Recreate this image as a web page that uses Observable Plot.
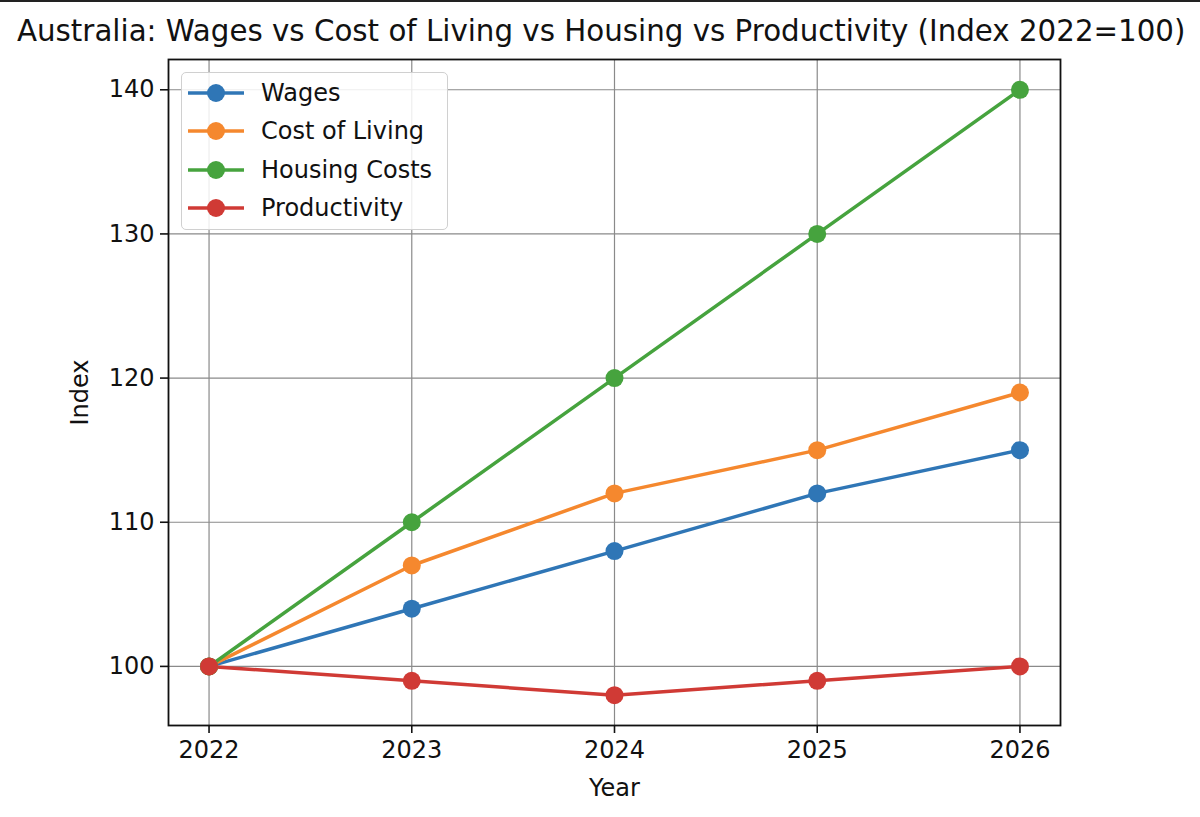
<!DOCTYPE html>
<html>
<head>
<meta charset="utf-8">
<script src="https://cdn.jsdelivr.net/npm/d3@7"></script>
<script src="https://cdn.jsdelivr.net/npm/@observablehq/plot@0.6"></script>
<style>
  html, body { margin: 0; padding: 0; background: #fff; overflow: hidden; }
  #wrap { position: relative; width: 1200px; height: 817px; font-family: "DejaVu Sans", sans-serif; }
  #topline { position: absolute; left: 0; top: 0; width: 1200px; height: 2px; background: #222; }
  #title { position: absolute; left: 17px; top: 14px; white-space: nowrap; font-size: 29.3px; color: #111; }
  #legend { position: absolute; left: 181px; top: 72px; width: 267px; height: 158px; border: 1.5px solid #d0d0d0; border-radius: 5px; background: rgba(255,255,255,0.85); box-sizing: border-box; }
  .row { position: absolute; left: 6px; height: 30px; display: flex; align-items: center; font-size: 24px; color: #111; }
  .row svg { margin-right: 17px; }
</style>
</head>
<body>
<div id="wrap">
  <div id="topline"></div>
  <div id="chart"></div>
  <div id="title">Australia: Wages vs Cost of Living vs Housing vs Productivity (Index 2022=100)</div>
  <div id="legend"></div>
</div>
<script>
const years = [2022, 2023, 2024, 2025, 2026];
const seriesNames = ["Wages", "Cost of Living", "Housing Costs", "Productivity"];
const wages = [100, 104, 108, 112, 115];
const costOfLiving = [100, 107, 112, 115, 119];
const housingCosts = [100, 110, 120, 130, 140];
const productivity = [100, 99, 98, 99, 100];
const colors = ["#2f76b6", "#f5882e", "#46a33e", "#d03a35"];
const yTicks = [100, 110, 120, 130, 140];

const seriesValues = [wages, costOfLiving, housingCosts, productivity];
const data = [];
seriesNames.forEach((name, i) => {
  years.forEach((yr, j) => data.push({series: name, year: yr, value: seriesValues[i][j]}));
});

const chart = Plot.plot({
  width: 1200,
  height: 817,
  marginLeft: 168,
  marginRight: 140,
  marginTop: 59,
  marginBottom: 92,
  style: { fontFamily: "DejaVu Sans, sans-serif", fontSize: "24px", color: "#111", background: "transparent" },
  x: { domain: [2021.8, 2026.2], ticks: years, tickFormat: d => String(d) },
  y: { domain: [95.9, 142.1], ticks: yTicks },
  color: { domain: seriesNames, range: colors },
  marks: [
    Plot.gridX(years, { stroke: "#8a8a8a", strokeOpacity: 1, strokeWidth: 1.2 }),
    Plot.gridY(yTicks, { stroke: "#8a8a8a", strokeOpacity: 1, strokeWidth: 1.2 }),
    Plot.axisX(years, { tickSize: 8, tickPadding: 7, tickFormat: d => String(d), label: "Year", labelAnchor: "center", labelArrow: "none", labelOffset: 70, fontSize: 24, strokeWidth: 1.6 }),
    Plot.axisY(yTicks, { tickSize: 8, tickPadding: 6, label: "Index", labelAnchor: "center", labelArrow: "none", labelOffset: 98, fontSize: 24, strokeWidth: 1.6 }),
    Plot.line(data, { x: "year", y: "value", z: "series", stroke: "series", strokeWidth: 3.5 }),
    Plot.dot(data, { x: "year", y: "value", fill: "series", r: 9 }),
    Plot.frame({ stroke: "#111", strokeWidth: 1.8 })
  ]
});
document.getElementById("chart").appendChild(chart);

const legend = document.getElementById("legend");
seriesNames.forEach((name, i) => {
  const row = document.createElement("div");
  row.className = "row";
  row.style.top = (5 + i * 38.3) + "px";
  row.innerHTML = `<svg width="56" height="24"><line x1="0" y1="12" x2="56" y2="12" stroke="${colors[i]}" stroke-width="3.5"/><circle cx="28" cy="12" r="9" fill="${colors[i]}"/></svg><span>${name}</span>`;
  legend.appendChild(row);
});
</script>
</body>
</html>
